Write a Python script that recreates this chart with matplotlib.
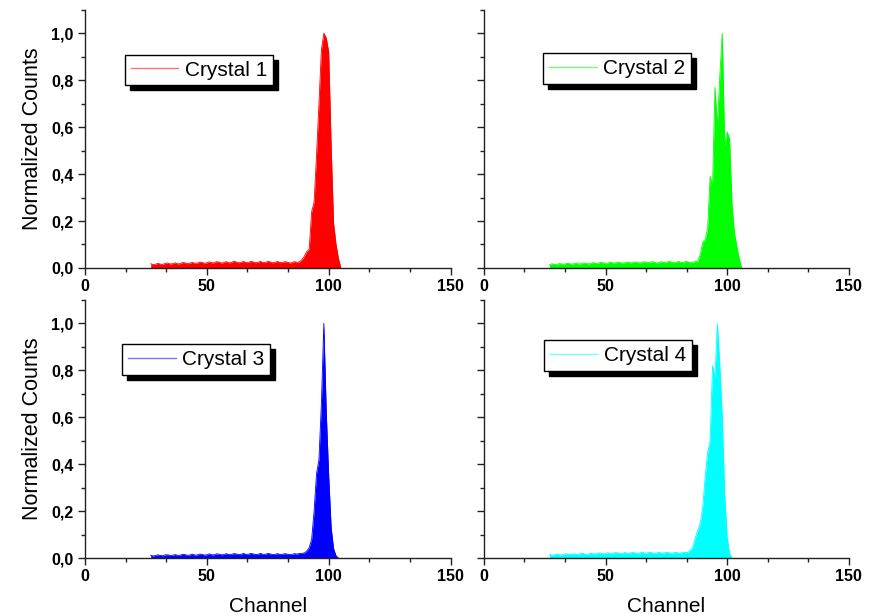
import numpy as np
import matplotlib
matplotlib.use("Agg")
import matplotlib.pyplot as plt
from matplotlib.ticker import MultipleLocator, AutoMinorLocator, FuncFormatter

plt.rcParams["font.family"] = ["Liberation Sans", "DejaVu Sans"]

# ── spectra: counts per channel, first channel = 27 ─────────────
START_CH = 27

crystal1 = [0.018, 0.014, 0.016, 0.020, 0.016, 0.015, 0.020, 0.021, 0.017, 0.018,
            0.022, 0.018, 0.018, 0.023, 0.022, 0.018, 0.020, 0.024, 0.020, 0.020,
            0.025, 0.024, 0.020, 0.022, 0.026, 0.022, 0.022, 0.027, 0.025, 0.021,
            0.023, 0.027, 0.022, 0.023, 0.028, 0.026, 0.022, 0.024, 0.028, 0.023,
            0.023, 0.028, 0.026, 0.022, 0.024, 0.028, 0.023, 0.023, 0.028, 0.026,
            0.022, 0.024, 0.028, 0.023, 0.023, 0.027, 0.025, 0.021, 0.023, 0.027,
            0.024,
            0.026, 0.035, 0.050, 0.070, 0.080, 0.240, 0.280, 0.480, 0.700, 0.930,
            1.000, 0.980, 0.920, 0.520, 0.190, 0.100, 0.040, 0.000]

crystal2 = [0.014, 0.018, 0.015, 0.014, 0.019, 0.017, 0.015, 0.020, 0.019, 0.016,
            0.018, 0.021, 0.017, 0.018, 0.022, 0.020, 0.017, 0.020, 0.023, 0.019,
            0.020, 0.024, 0.022, 0.019, 0.021, 0.025, 0.021, 0.021, 0.025, 0.023,
            0.020, 0.022, 0.026, 0.022, 0.022, 0.026, 0.024, 0.021, 0.023, 0.027,
            0.023, 0.023, 0.027, 0.025, 0.021, 0.023, 0.027, 0.023, 0.023, 0.028,
            0.026, 0.022, 0.024, 0.028, 0.024, 0.023, 0.028, 0.026, 0.022, 0.024,
            0.028,
            0.030, 0.060, 0.110, 0.120, 0.170, 0.390, 0.350, 0.770, 0.600, 0.820,
            1.000, 0.520, 0.580, 0.550, 0.270, 0.150, 0.090, 0.040, 0.000]

crystal3 = [0.012, 0.009, 0.011, 0.014, 0.011, 0.010, 0.014, 0.014, 0.011, 0.012,
            0.015, 0.012, 0.012, 0.016, 0.015, 0.012, 0.013, 0.017, 0.013, 0.013,
            0.017, 0.016, 0.013, 0.014, 0.018, 0.014, 0.014, 0.018, 0.017, 0.014,
            0.015, 0.019, 0.015, 0.015, 0.019, 0.018, 0.015, 0.016, 0.020, 0.016,
            0.016, 0.020, 0.018, 0.015, 0.016, 0.020, 0.016, 0.016, 0.020, 0.018,
            0.015, 0.016, 0.019, 0.016, 0.016, 0.019, 0.017, 0.015, 0.016, 0.019,
            0.017,
            0.020, 0.020, 0.022, 0.030, 0.045, 0.080, 0.200, 0.360, 0.420, 0.660,
            1.000, 0.620, 0.350, 0.130, 0.040, 0.010, 0.000]

crystal4 = [0.016, 0.012, 0.014, 0.017, 0.014, 0.013, 0.017, 0.018, 0.015, 0.016,
            0.019, 0.016, 0.016, 0.020, 0.019, 0.016, 0.017, 0.021, 0.018, 0.018,
            0.022, 0.021, 0.018, 0.019, 0.023, 0.019, 0.019, 0.024, 0.022, 0.019,
            0.020, 0.024, 0.020, 0.020, 0.025, 0.023, 0.020, 0.021, 0.025, 0.021,
            0.021, 0.025, 0.023, 0.020, 0.021, 0.025, 0.021, 0.021, 0.025, 0.023,
            0.020, 0.022, 0.025, 0.021, 0.021, 0.025, 0.023,
            0.025, 0.035, 0.050, 0.090, 0.120, 0.150, 0.220, 0.350, 0.450, 0.500,
            0.820, 0.770, 1.000, 0.820, 0.600, 0.270, 0.090, 0.020, 0.000]

spectra = [crystal1, crystal2, crystal3, crystal4]
labels  = ["Crystal 1", "Crystal 2", "Crystal 3", "Crystal 4"]
colours = ["#ff0000", "#00ff00", "#0000ff", "#00ffff"]

# axes rectangles (figure fraction) and legend anchors (axes fraction)
positions = [[0.097, 0.565, 0.418, 0.419], [0.553, 0.565, 0.417, 0.419],
             [0.097, 0.094, 0.418, 0.419], [0.553, 0.094, 0.417, 0.419]]
legend_at = [(0.109, 0.826), (0.162, 0.833), (0.101, 0.829), (0.164, 0.845)]

fig = plt.figure(figsize=(8.75, 6.16), dpi=100)
comma = FuncFormatter(lambda v, _: f"{v:.1f}".replace(".", ","))

for i, (counts, lab, col) in enumerate(zip(spectra, labels, colours)):
    ax = fig.add_axes(positions[i])
    ch = np.arange(START_CH, START_CH + len(counts))
    ax.fill_between(ch, counts, 0, color=col, linewidth=0)
    ax.plot(ch, counts, color=col, linewidth=0.6)
    ax.plot([], [], color=col, alpha=0.55, linewidth=1.0, label=lab)

    ax.set_xlim(0, 150)
    ax.set_ylim(0, 1.1)
    ax.xaxis.set_major_locator(MultipleLocator(50))
    ax.xaxis.set_minor_locator(AutoMinorLocator(3))
    ax.yaxis.set_major_locator(MultipleLocator(0.2))
    ax.yaxis.set_minor_locator(AutoMinorLocator(2))
    ax.yaxis.set_major_formatter(comma)

    for s in ("top", "right"):
        ax.spines[s].set_visible(False)
    for s in ("left", "bottom"):
        ax.spines[s].set_linewidth(1.0)
        ax.spines[s].set_color("#222")
    ax.tick_params(which="major", direction="out", length=5, width=1, color="#222",
                   labelsize=11.5, pad=3)
    ax.tick_params(which="minor", direction="out", length=3, width=1, color="#222")
    for t in ax.get_xticklabels() + ax.get_yticklabels():
        t.set_fontweight("bold")

    if i % 2 == 0:
        ax.set_ylabel("Normalized Counts", fontsize=15.5)
        ax.yaxis.set_label_coords(-0.115, 0.5)
    else:
        ax.set_yticklabels([])
    if i >= 2:
        ax.set_xlabel("Channel", fontsize=15)
        ax.xaxis.set_label_coords(0.5, -0.15)

    leg = ax.legend(loc="upper left", bbox_to_anchor=legend_at[i], borderaxespad=0,
                    fontsize=15, handlelength=2.3, handletextpad=0.3,
                    borderpad=0.28, fancybox=False, framealpha=1,
                    shadow={"color": "k", "alpha": 1, "ox": 3.6, "oy": -3.6})
    leg.get_frame().set_edgecolor("black")
    leg.get_frame().set_linewidth(1.0)

plt.savefig("out.png", dpi=100)
plt.close()
